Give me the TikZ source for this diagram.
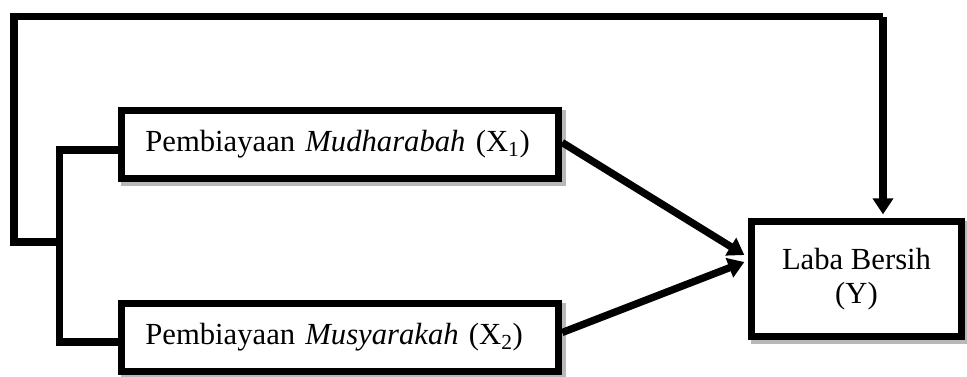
\documentclass[tikz,border=0pt]{standalone}
\usepackage{fontspec}
\setmainfont{Liberation Serif}
\usetikzlibrary{arrows.meta,calc,shadows}
\begin{document}
\begin{tikzpicture}[x=0.75pt,y=-0.75pt,
  thick line/.style={line width=5.5pt, draw=black},
  box/.style={draw=black, line width=5.5pt, fill=white, inner ysep=0pt,
    font=\fontsize{23}{26}\selectfont,
    drop shadow={shadow xshift=2.6pt, shadow yshift=-2.6pt, fill=black!28, draw=black!28, line width=5.5pt, opacity=1}},
  xbox/.style={box, minimum width=327.75pt, minimum height=51pt, inner xsep=17.5pt, text width=292pt, align=left},
  ybox/.style={box, minimum width=157.5pt, minimum height=86.25pt, inner xsep=0pt, align=center},
  arr/.style={thick line, -{Triangle[length=12pt,width=15pt]}}]
\useasboundingbox (0,0) rectangle (967,376);
\node[xbox] (X1) at (340,144.5) {Pembiayaan \textit{Mudharabah} (X\textsubscript{1})};
\node[xbox] (X2) at (340,337.5) {Pembiayaan \textit{Musyarakah} (X\textsubscript{2})};
\node[ybox] (Y) at (856.5,279) {Laba Bersih\\(Y)};
\coordinate (tl) at (14,16.5);
\coordinate (tr) at (883,16.5);
\coordinate (j) at (63,242);
% bracket
\draw[thick line] ($(X1.west)+(0,5.5)$) -- ($(X1.west)+(-58.5,5.5)$) -- ($(X2.west)+(-58.5,4.5)$) -- ($(X2.west)+(0,4.5)$);
% outer loop
\draw[thick line] (j) -- (j -| tl) -- (tl) -- (tr);
\draw[arr] (tr) -- ($(tr |- Y.north)+(0,-3.5)$);
% arrows
\draw[arr] ($(X1.east)+(0,-2)$) -- ($(Y.west)+(-3.5,-24)$);
\draw[arr] ($(X2.east)+(0,-5)$) -- ($(Y.west)+(-3.5,-17)$);
\end{tikzpicture}
\end{document}
